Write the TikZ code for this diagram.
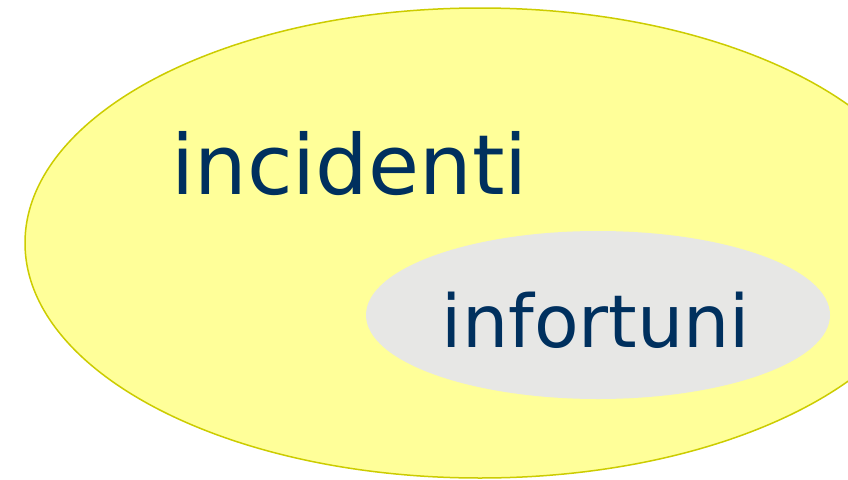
\documentclass[tikz,border=0pt]{standalone}
\usepackage{fontspec}
\setmainfont{DejaVu Sans}
\definecolor{yfill}{HTML}{FFFF99}
\definecolor{yline}{HTML}{CCCC00}
\definecolor{gfill}{HTML}{E7E7E5}
\definecolor{navy}{HTML}{00305E}
\tikzset{
  setlabel/.style={text=navy, inner sep=0pt, anchor=base},
}
\begin{document}
\begin{tikzpicture}[x=1pt,y=-1pt]
\useasboundingbox (0,0) rectangle (848,479);
\begin{scope}
\clip (0,0) rectangle (848,479);
\draw[fill=yfill, draw=yline, line width=1.5pt] (480,243) ellipse [x radius=455, y radius=235];
\fill[gfill] (598,315) ellipse [x radius=232, y radius=84];
\end{scope}
\node[setlabel, font=\fontsize{83}{90}\selectfont] (inc) at (349.5,194) {incidenti};
\node[setlabel, font=\fontsize{73}{80}\selectfont] (inf) at (596,347) {infortuni};
\end{tikzpicture}
\end{document}
